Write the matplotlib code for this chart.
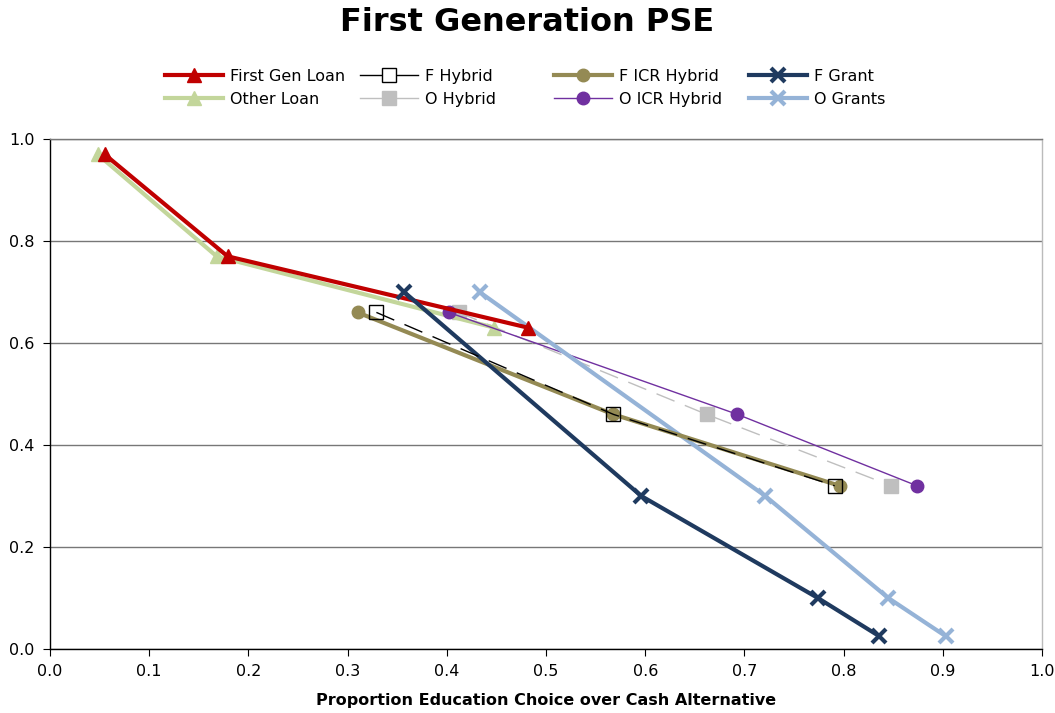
import matplotlib
matplotlib.use("Agg")
import matplotlib.pyplot as plt
from matplotlib.lines import Line2D

plt.rcParams["font.family"] = ["Verdana", "DejaVu Sans"]

y_loan = [0.97, 0.77, 0.63]
x_first_loan = [0.055, 0.179, 0.482]
x_other_loan = [0.048, 0.168, 0.448]

y_hybrid = [0.66, 0.46, 0.32]
x_f_hybrid = [0.329, 0.568, 0.791]
x_o_hybrid = [0.412, 0.662, 0.848]
x_f_icr = [0.310, 0.568, 0.796]
x_o_icr = [0.402, 0.693, 0.874]

y_grant = [0.70, 0.30, 0.10, 0.025]
x_f_grant = [0.357, 0.596, 0.774, 0.836]
x_o_grant = [0.433, 0.721, 0.845, 0.903]

fig = plt.figure(figsize=(10.55, 7.13), dpi=100)
ax = fig.add_axes([0.0474, 0.0898, 0.9403, 0.7152])

dash = (0, (14, 8))
h_fgl, = ax.plot(x_first_loan, y_loan, color="#C00000", lw=3, marker="^", ms=10, zorder=5)
h_ol, = ax.plot(x_other_loan, y_loan, color="#C3D69B", lw=3, marker="^", ms=10, zorder=4)
ax.plot(x_f_hybrid, y_hybrid, color="black", lw=1, ls=dash, marker="s",
        ms=10, mfc="none", mec="black", zorder=6)
ax.plot(x_o_hybrid, y_hybrid, color="#BFBFBF", lw=1, ls=dash, marker="s",
        ms=10, mfc="#BFBFBF", mec="#BFBFBF", zorder=3)
h_fi, = ax.plot(x_f_icr, y_hybrid, color="#948A54", lw=3, marker="o", ms=9, zorder=5)
h_oi, = ax.plot(x_o_icr, y_hybrid, color="#7030A0", lw=1, marker="o", ms=9, zorder=4)
h_fg, = ax.plot(x_f_grant, y_grant, color="#1F3A5F", lw=3, marker="x", ms=10, mew=3, zorder=5)
h_og, = ax.plot(x_o_grant, y_grant, color="#95B3D7", lw=3, marker="x", ms=10, mew=3, zorder=4)

# legend handles for hybrids use solid lines, as in the reference
leg_fh = Line2D([], [], color="black", lw=1, marker="s", ms=10, mfc="white", mec="black")
leg_oh = Line2D([], [], color="#BFBFBF", lw=1, marker="s", ms=10, mfc="#BFBFBF", mec="#BFBFBF")

columns = [
    ([h_fgl, h_ol], ["First Gen Loan", "Other Loan"], 165),
    ([leg_fh, leg_oh], ["F Hybrid", "O Hybrid"], 360),
    ([h_fi, h_oi], ["F ICR Hybrid", "O ICR Hybrid"], 554),
    ([h_fg, h_og], ["F Grant", "O Grants"], 749),
]
for handles, labels, xpix in columns:
    fig.legend(handles, labels, ncol=1, loc="center left",
               bbox_to_anchor=(xpix / 1055, 1 - 88 / 713), frameon=False,
               fontsize=11.5, handlelength=3.6, handletextpad=0.45,
               labelspacing=0.5, borderpad=0, borderaxespad=0)

ax.set_xlim(0, 1.0)
ax.set_ylim(0, 1.0)
ax.set_xticks([i / 10 for i in range(11)])
ax.set_yticks([i / 10 for i in range(0, 11, 2)])
ax.xaxis.set_major_formatter(matplotlib.ticker.FormatStrFormatter("%.1f"))
ax.yaxis.set_major_formatter(matplotlib.ticker.FormatStrFormatter("%.1f"))
ax.tick_params(direction="out", length=5, labelsize=11.5, color="black", pad=6)
ax.grid(axis="y", color="#777777", lw=1)
ax.set_axisbelow(True)
ax.spines["left"].set_color("black")
ax.spines["bottom"].set_color("black")
ax.spines["top"].set_color("#777777")
ax.spines["right"].set_color("#BBBBBB")
for s in ax.spines.values():
    s.set_linewidth(1)

ax.set_xlabel("Proportion Education Choice over Cash Alternative", fontsize=11.5,
              fontweight="bold", labelpad=10)
fig.suptitle("First Generation PSE", fontsize=23, fontweight="bold", y=0.99)

fig.savefig("out.png", dpi=100)
